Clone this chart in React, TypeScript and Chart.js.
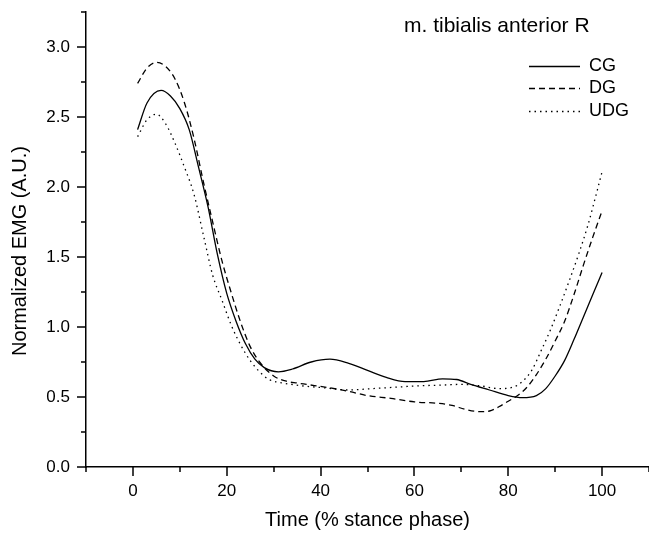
import React, { useEffect, useRef } from "react";
import { Chart, registerables } from "chart.js";

Chart.register(...registerables);

// ---- Data ----
const seriesNames = ["CG", "DG", "UDG"];

const cgTime = [1, 3, 6, 8, 10, 12, 14, 16, 18, 20, 22, 24, 26, 28, 31, 34, 38, 42, 46, 50, 54, 58, 62, 66, 69, 72, 76, 80, 83, 86, 88, 90, 92, 94, 96, 98, 100];
const cgValues = [2.41, 2.6, 2.69, 2.65, 2.56, 2.41, 2.14, 1.86, 1.52, 1.24, 1.04, 0.88, 0.77, 0.71, 0.68, 0.7, 0.75, 0.77, 0.74, 0.69, 0.64, 0.61, 0.61, 0.63, 0.625, 0.59, 0.55, 0.51, 0.495, 0.51, 0.56, 0.65, 0.76, 0.91, 1.07, 1.23, 1.39];

const dgTime = [1, 3, 5, 7, 9, 11, 13, 15, 17, 19, 21, 23, 25, 27, 30, 33, 35, 37, 42, 46, 50, 55, 60, 65, 68, 71, 74, 76, 78, 80, 82, 84, 86, 88, 90, 92, 94, 96, 98, 100];
const dgValues = [2.74, 2.85, 2.89, 2.86, 2.77, 2.6, 2.35, 2.04, 1.75, 1.47, 1.24, 1.03, 0.86, 0.75, 0.65, 0.61, 0.6, 0.59, 0.565, 0.54, 0.51, 0.49, 0.465, 0.455, 0.44, 0.41, 0.395, 0.4, 0.43, 0.47, 0.51, 0.57, 0.66, 0.77, 0.9, 1.04, 1.23, 1.44, 1.64, 1.83];

const udgTime = [1, 3, 5, 7, 9, 11, 13, 15, 17, 19, 21, 23, 25, 27, 29, 32, 36, 41, 46, 51, 56, 61, 66, 70, 74, 78, 81, 83, 85, 87, 89, 91, 93, 95, 97, 99, 100];
const udgValues = [2.36, 2.48, 2.52, 2.45, 2.31, 2.14, 1.95, 1.66, 1.37, 1.19, 1.01, 0.87, 0.76, 0.68, 0.625, 0.6, 0.58, 0.565, 0.55, 0.56, 0.57, 0.58, 0.585, 0.59, 0.58, 0.56, 0.57, 0.61, 0.69, 0.83, 0.98, 1.15, 1.33, 1.52, 1.73, 1.98, 2.11];

const xMajorTicks = [0, 20, 40, 60, 80, 100];
const xMinorTicks = [-10, 10, 30, 50, 70, 90, 110];
const yMajorTicks = [0, 0.5, 1.0, 1.5, 2.0, 2.5, 3.0];
const yMinorTicks = [0.25, 0.75, 1.25, 1.75, 2.25, 2.75, 3.25];

const chartTitle = "m. tibialis anterior R";
const xAxisTitle = "Time (% stance phase)";
const yAxisTitle = "Normalized EMG (A.U.)";

const FONT = "'Liberation Sans', Arial, Helvetica, sans-serif";

export default function App() {
  const canvasRef = useRef<HTMLCanvasElement>(null);

  useEffect(() => {
    document.body.style.margin = "0";
    const canvas = canvasRef.current;
    if (!canvas) return;

    const toXY = (t: number[], v: number[]) => t.map((x, i) => ({ x, y: v[i] }));

    const tickPlugin = {
      id: "customTicks",
      afterDraw(chart: any) {
        const { ctx, chartArea, scales } = chart;
        const xs = scales.x;
        const ys = scales.y;
        ctx.save();
        ctx.strokeStyle = "#000";
        ctx.lineWidth = 1.5;
        const b = chartArea.bottom;
        const l = chartArea.left;
        const drawX = (vals: number[], len: number) => {
          vals.forEach((v) => {
            const px = Math.round(xs.getPixelForValue(v));
            ctx.beginPath();
            ctx.moveTo(px, b);
            ctx.lineTo(px, b + len);
            ctx.stroke();
          });
        };
        const drawY = (vals: number[], len: number) => {
          vals.forEach((v) => {
            const py = Math.round(ys.getPixelForValue(v));
            ctx.beginPath();
            ctx.moveTo(l, py);
            ctx.lineTo(l - len, py);
            ctx.stroke();
          });
        };
        drawX(xMajorTicks, 9);
        drawX(xMinorTicks, 5);
        drawY(yMajorTicks, 9);
        drawY(yMinorTicks, 5);
        ctx.restore();
      },
    };

    const annotPlugin = {
      id: "annotations",
      afterDraw(chart: any) {
        const { ctx } = chart;
        ctx.save();
        ctx.fillStyle = "#000";
        ctx.textBaseline = "middle";
        ctx.textAlign = "left";
        ctx.font = `21px ${FONT}`;
        ctx.fillText(chartTitle, 404, 26);

        // y-axis title (rotated)
        ctx.save();
        ctx.translate(20, 251);
        ctx.rotate(-Math.PI / 2);
        ctx.textAlign = "center";
        ctx.font = `20px ${FONT}`;
        ctx.fillText(yAxisTitle, 0, 0);
        ctx.restore();

        const rows = [66, 88, 111];
        ctx.font = `18px ${FONT}`;
        chart.data.datasets.forEach((ds: any, i: number) => {
          const y = rows[i];
          ctx.strokeStyle = ds.borderColor;
          ctx.lineWidth = ds.borderWidth;
          ctx.setLineDash(ds.borderDash || []);
          ctx.beginPath();
          ctx.moveTo(529, y + 0.5);
          ctx.lineTo(580, y + 0.5);
          ctx.stroke();
          ctx.setLineDash([]);
          ctx.fillText(ds.label, 589, y);
        });
        ctx.restore();
      },
    };

    const common = {
      borderColor: "#000",
      borderWidth: 1.3,
      pointRadius: 0,
      fill: false,
      cubicInterpolationMode: "monotone" as const,
    };

    const chart = new Chart(canvas, {
      type: "line",
      data: {
        datasets: [
          { ...common, label: seriesNames[0], data: toXY(cgTime, cgValues), borderDash: [] },
          { ...common, label: seriesNames[1], data: toXY(dgTime, dgValues), borderDash: [6, 4] },
          { ...common, label: seriesNames[2], data: toXY(udgTime, udgValues), borderDash: [1.5, 4] },
        ],
      },
      options: {
        animation: false,
        responsive: false,
        devicePixelRatio: 1,
        layout: { padding: { top: 12, right: 0, left: 0, bottom: 0 } },
        plugins: {
          legend: { display: false },
          tooltip: { enabled: false },
          title: { display: false },
        },
        scales: {
          x: {
            type: "linear",
            position: "bottom",
            min: -10,
            max: 110,
            afterBuildTicks: (s: any) => {
              s.ticks = xMajorTicks.map((v) => ({ value: v }));
            },
            afterFit: (s: any) => {
              s.height = 66;
              s.paddingLeft = 0;
              s.paddingRight = 0;
            },
            ticks: {
              color: "#000",
              font: { family: FONT, size: 17 },
              padding: 14,
              maxRotation: 0,
              autoSkip: false,
              callback: (v: any) => String(v),
            },
            grid: { display: false, drawTicks: false },
            border: { display: true, color: "#000", width: 1.5 },
            title: {
              display: true,
              text: xAxisTitle,
              color: "#000",
              font: { family: FONT, size: 20 },
              padding: { top: 0, bottom: 1 },
            },
          },
          y: {
            type: "linear",
            min: 0,
            max: 3.25,
            afterBuildTicks: (s: any) => {
              s.ticks = yMajorTicks.map((v) => ({ value: v }));
            },
            afterFit: (s: any) => {
              s.width = 86;
              s.paddingTop = 0;
              s.paddingBottom = 0;
            },
            ticks: {
              color: "#000",
              font: { family: FONT, size: 17 },
              padding: 16,
              autoSkip: false,
              callback: (v: any) => Number(v).toFixed(1),
            },
            grid: { display: false, drawTicks: false },
            border: { display: true, color: "#000", width: 1.5 },
            title: { display: false },
          },
        },
      },
      plugins: [tickPlugin, annotPlugin],
    } as any);

    return () => chart.destroy();
  }, []);

  return (
    <div style={{ width: 649, height: 533 }}>
      <canvas ref={canvasRef} width={649} height={533} style={{ display: "block" }} />
    </div>
  );
}
